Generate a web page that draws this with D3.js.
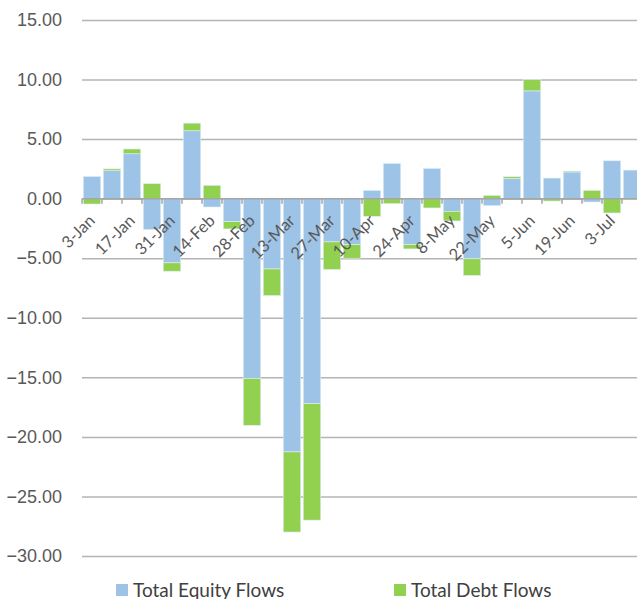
<!DOCTYPE html>
<html>
<head>
<meta charset="utf-8">
<script src="https://cdn.jsdelivr.net/npm/d3@7"></script>
<style>
  body { margin: 0; background: #fff; }
  svg { display: block; font-family: Lato, "Open Sans", sans-serif; }
</style>
</head>
<body>
<div class="chart"></div>
<script>
// weekly flows
var weeks = ['3-Jan', '10-Jan', '17-Jan', '24-Jan', '31-Jan', '7-Feb', '14-Feb', '21-Feb', '28-Feb',
    '6-Mar', '13-Mar', '20-Mar', '27-Mar', '3-Apr', '10-Apr', '17-Apr', '24-Apr', '1-May', '8-May',
    '15-May', '22-May', '29-May', '5-Jun', '12-Jun', '19-Jun', '26-Jun', '3-Jul', '10-Jul'];

var equity = [1.87, 2.35, 3.77, -2.6, -5.39, 5.7, -0.7, -1.93, -15.09,
    -5.9, -21.26, -17.21, -3.63, -3.86, 0.7, 2.96, -3.86, 2.54, -1.06,
    -5.05, -0.59, 1.7, 9.05, 1.73, 2.24, -0.28, 3.18, 2.4];

var debt = [-0.45, 0.15, 0.4, 1.26, -0.7, 0.64, 1.12, -0.61, -3.94,
    -2.23, -6.73, -9.78, -2.32, -1.14, -1.48, -0.42, -0.36, -0.78, -0.81,
    -1.4, 0.28, 0.14, 0.95, -0.2, 0.08, 0.7, -1.2, -0.1];

var yTicks = [15, 10, 5, 0, -5, -10, -15, -20, -25, -30];

var seriesNames = ['Total Equity Flows', 'Total Debt Flows'];
var colors = ['#9dc3e6', '#92d050'];

var width = 637;
var height = 599;
var margin = {top: 20, left: 82, bottom: 43};

var svg = d3.select('.chart')
    .append('svg')
    .attr('width', width)
    .attr('height', height);

var y = d3.scaleLinear()
    .domain([-30, 15])
    .range([height - margin.bottom, margin.top]);

// chart runs off the right edge, 20px per week
var x = d3.scaleBand()
    .domain(weeks)
    .range([margin.left, margin.left + weeks.length * 20])
    .paddingInner(0.125)
    .paddingOuter(0.0625);

// grid lines + y labels
svg.append('g')
    .attr('class', 'grid')
    .attr('transform', 'translate(' + margin.left + ',0)')
    .call(d3.axisLeft(y)
        .tickValues(yTicks)
        .tickSize(-(width - margin.left))
        .tickFormat(d3.format('.2f'))
    )
    .call(function(g) {
        g.select('.domain').remove();
        g.selectAll('.tick line').attr('stroke', '#b4b4b4').attr('stroke-width', 1.5);
        g.selectAll('.tick text')
            .attr('x', -20)
            .attr('fill', '#595959')
            .style('font-size', '18px');
    });

// stack: positives up from zero, negatives down, equity nearest the axis
var rows = weeks.map(function(w, i) { return [equity[i], debt[i]] });

var segs = [];
rows.forEach(function(r, i) {
    var pos = 0, neg = 0;
    r.forEach(function(v, s) {
        var y0, y1;
        if (v >= 0) { y0 = pos; pos += v; y1 = pos; }
        else { y0 = neg; neg += v; y1 = neg; }
        segs.push({week: weeks[i], s: s, y0: y0, y1: y1});
    });
});

svg.append('g')
    .selectAll('rect')
    .data(segs)
    .enter()
    .append('rect')
    .attr('x', function(d) { return x(d.week) })
    .attr('width', x.bandwidth())
    .attr('y', function(d) { return y(Math.max(d.y0, d.y1)) })
    .attr('height', function(d) { return Math.abs(y(d.y0) - y(d.y1)) })
    .attr('fill', function(d) { return colors[d.s] })
    .attr('stroke', '#e4eef8')
    .attr('stroke-width', 0.6);

// zero axis with tick marks between categories
var axis = svg.append('g').attr('class', 'x-axis');
var zero = y(0);

axis.append('line')
    .attr('x1', margin.left)
    .attr('x2', width)
    .attr('y1', zero)
    .attr('y2', zero)
    .attr('stroke', '#a6a6a6')
    .attr('stroke-width', 1.5);

axis.selectAll('.tick-mark')
    .data(weeks)
    .enter()
    .append('line')
    .attr('class', 'tick-mark')
    .attr('x1', function(d) { return x(d) - x.step() * x.paddingOuter() })
    .attr('x2', function(d) { return x(d) - x.step() * x.paddingOuter() })
    .attr('y1', zero)
    .attr('y2', zero + 5)
    .attr('stroke', '#a6a6a6')
    .attr('stroke-width', 1.5);

axis.selectAll('.x-label')
    .data(weeks.filter(function(d, i) { return i % 2 === 0 }))
    .enter()
    .append('text')
    .attr('class', 'x-label')
    .attr('transform', function(d) {
        return 'translate(' + (x(d) + x.bandwidth() / 2 + 4) + ',' + (zero + 23) + ') rotate(-45)';
    })
    .attr('text-anchor', 'end')
    .attr('fill', '#595959')
    .style('font-size', '16.5px')
    .text(function(d) { return d });

// legend
var legendX = [116, 394];
var legend = svg.append('g').attr('class', 'legend');

legend.selectAll('rect')
    .data(seriesNames)
    .enter()
    .append('rect')
    .attr('x', function(d, i) { return legendX[i] })
    .attr('y', 584)
    .attr('width', 12)
    .attr('height', 12)
    .attr('fill', function(d, i) { return colors[i] });

legend.selectAll('text')
    .data(seriesNames)
    .enter()
    .append('text')
    .attr('x', function(d, i) { return legendX[i] + 17 })
    .attr('y', 597)
    .attr('fill', '#404040')
    .style('font-size', '19px')
    .text(function(d) { return d });
</script>
</body>
</html>
